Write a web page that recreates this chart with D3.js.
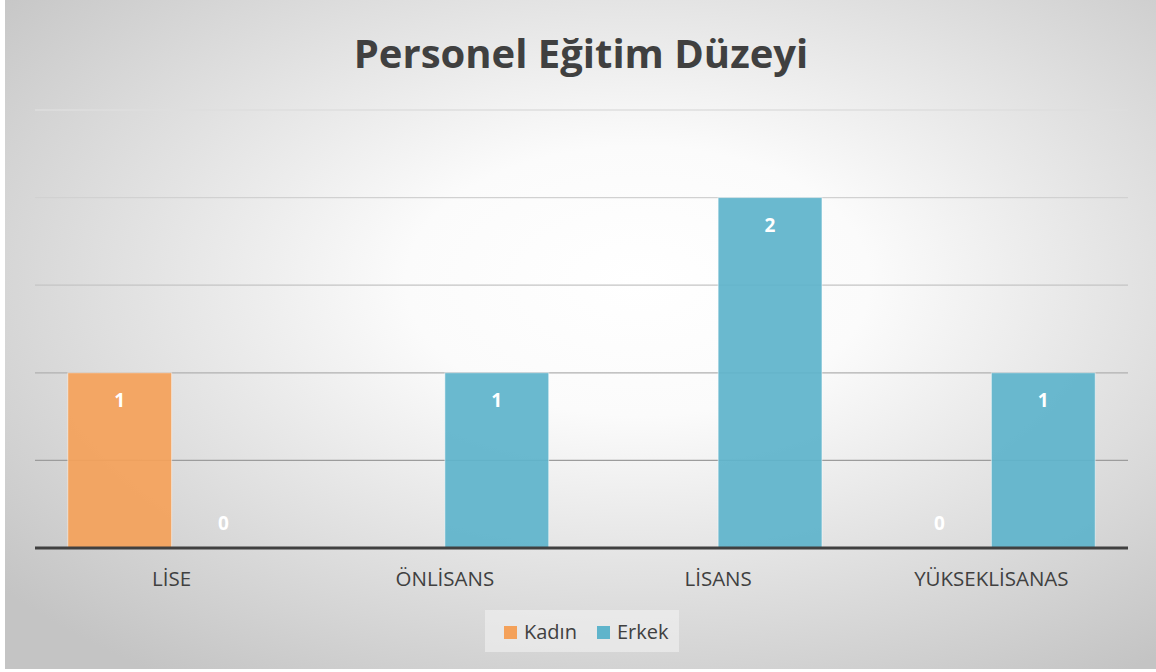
<!DOCTYPE html>
<html>
<head>
<meta charset="utf-8">
<script src="https://cdn.jsdelivr.net/npm/d3@7"></script>
<style>
  body { margin: 0; background: #fff; }
  svg { display: block; font-family: "Open Sans", sans-serif; }
</style>
</head>
<body>
<div id="chart-area"></div>
<script>
// Data
const categories = ['LİSE', 'ÖNLİSANS', 'LİSANS', 'YÜKSEKLİSANAS'];
const seriesNames = ['Kadın', 'Erkek'];
const kadin = [1, null, null, 0];
const erkek = [0, 1, 2, 1];
const gridTicks = [0.5, 1, 1.5, 2, 2.5];
const colors = ['#F4A15A', '#5FB4CB'];

// Size
const W = 1156, H = 672;
const margin = { left: 35, right: 28, top: 110, bottom: 124 };
const width = W - margin.left - margin.right;
const height = H - margin.top - margin.bottom;

const svg = d3.select('#chart-area')
  .append('svg')
    .attr('width', W)
    .attr('height', H);

// Background gradient
const defs = svg.append('defs');
const grad = defs.append('radialGradient')
  .attr('id', 'bg')
  .attr('cx', 0.55).attr('cy', 0.42).attr('r', 0.72);
grad.append('stop').attr('offset', '0%').attr('stop-color', '#ffffff');
grad.append('stop').attr('offset', '28%').attr('stop-color', '#fbfbfb');
grad.append('stop').attr('offset', '100%').attr('stop-color', '#c4c4c4');

svg.append('rect')
  .attr('x', 5).attr('y', 0)
  .attr('width', W - 5).attr('height', 669)
  .attr('fill', 'url(#bg)');

const g = svg.append('g')
  .attr('transform', 'translate(' + margin.left + ', ' + margin.top + ')');

// Scales
const x0 = d3.scaleBand()
  .domain(categories)
  .range([0, width])
  .paddingInner(0.24)
  .paddingOuter(0.12);

const x1 = d3.scaleBand()
  .domain(seriesNames)
  .range([0, x0.bandwidth()]);

const y = d3.scaleLinear()
  .domain([0, 2.5])
  .range([height, 0]);

const gridColor = d3.scaleLinear()
  .domain([0.5, 1.5, 2.5])
  .range(['#9c9c9c', '#c4c4c4', '#dedede']);

// Gridlines
g.selectAll('.grid')
  .data(gridTicks)
  .enter().append('line')
    .attr('class', 'grid')
    .attr('x1', 0).attr('x2', width)
    .attr('y1', d => y(d)).attr('y2', d => y(d))
    .attr('stroke', d => gridColor(d))
    .attr('stroke-width', 1.3);

// Bars
const rows = categories.map((c, i) => ({
  cat: c,
  values: [
    { key: 'Kadın', value: kadin[i], color: colors[0] },
    { key: 'Erkek', value: erkek[i], color: colors[1] }
  ]
}));

const groups = g.selectAll('.cat')
  .data(rows)
  .enter().append('g')
    .attr('class', 'cat')
    .attr('transform', d => 'translate(' + x0(d.cat) + ', 0)');

groups.selectAll('rect')
  .data(d => d.values.filter(v => v.value))
  .enter().append('rect')
    .attr('x', d => x1(d.key))
    .attr('y', d => y(d.value))
    .attr('width', x1.bandwidth())
    .attr('height', d => y(0) - y(d.value))
    .attr('fill', d => d.color)
    .attr('fill-opacity', 0.93)
    .attr('stroke', '#ffffff')
    .attr('stroke-opacity', 0.5)
    .attr('stroke-width', 1);

// Value labels
groups.selectAll('.lbl')
  .data(d => d.values.filter(v => v.value !== null))
  .enter().append('text')
    .attr('class', 'lbl')
    .attr('x', d => x1(d.key) + x1.bandwidth() / 2)
    .attr('y', d => d.value ? y(d.value) + 34 : y(0) - 18)
    .attr('text-anchor', 'middle')
    .attr('font-size', '19px')
    .attr('font-weight', 'bold')
    .attr('fill', '#ffffff')
    .text(d => d.value);

// Baseline
g.append('line')
  .attr('x1', 0).attr('x2', width)
  .attr('y1', y(0)).attr('y2', y(0))
  .attr('stroke', '#404040')
  .attr('stroke-width', 3);

// X labels
g.selectAll('.xlab')
  .data(categories)
  .enter().append('text')
    .attr('class', 'xlab')
    .attr('x', d => x0(d) + x0.bandwidth() / 2)
    .attr('y', height + 38)
    .attr('text-anchor', 'middle')
    .attr('font-size', '20.5px')
    .attr('fill', '#404040')
    .text(d => d);

// Title
svg.append('text')
  .attr('x', 581)
  .attr('y', 68)
  .attr('text-anchor', 'middle')
  .attr('font-size', '40px')
  .attr('font-weight', 'bold')
  .attr('fill', '#404040')
  .text('Personel Eğitim Düzeyi');

// Legend
const legend = svg.append('g');
legend.append('rect')
  .attr('x', 485).attr('y', 610)
  .attr('width', 194).attr('height', 42)
  .attr('fill', '#f2f2f2')
  .attr('fill-opacity', 0.6);

const legendX = [504, 597];
seriesNames.forEach((name, i) => {
  legend.append('rect')
    .attr('x', legendX[i]).attr('y', 626)
    .attr('width', 13).attr('height', 13)
    .attr('fill', colors[i]);
  legend.append('text')
    .attr('x', legendX[i] + 20)
    .attr('y', 639)
    .attr('font-size', '20px')
    .attr('fill', '#404040')
    .text(name);
});
</script>
</body>
</html>
